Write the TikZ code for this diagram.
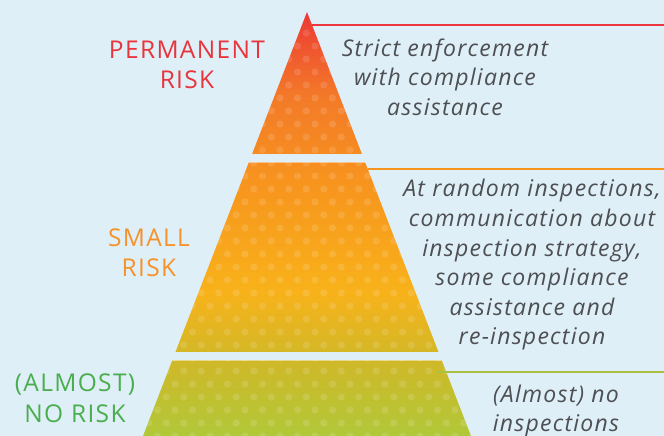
\documentclass[tikz,border=0pt]{standalone}
\usepackage{fontspec}
\setmainfont{Open Sans}
\newfontfamily\lblfont[LetterSpace=5.5]{Open Sans}
\newfontfamily\descfont[LetterSpace=5.5]{Open Sans}
\definecolor{bg}{HTML}{DFEFF8}
\definecolor{redc}{HTML}{E8343A}
\definecolor{orangec}{HTML}{F6922A}
\definecolor{greenc}{HTML}{4AAE4E}
\definecolor{txt}{HTML}{4D4F52}
\definecolor{redline}{HTML}{EE3540}
\definecolor{orangeline}{HTML}{F7941E}
\definecolor{greenline}{HTML}{A8C23F}
\pgfdeclareverticalshading{pyrshade}{100bp}{%
 color(0bp)=(greenline!90!yellow);
 color(25bp)=(greenline!90!yellow);
 color(34bp)=({rgb,255:red,208;green,184;blue,40});
 color(42bp)=({rgb,255:red,248;green,178;blue,26});
 color(55bp)=({rgb,255:red,247;green,148;blue,30});
 color(65bp)=({rgb,255:red,243;green,122;blue,40});
 color(70bp)=({rgb,255:red,240;green,90;blue,46});
 color(75bp)=({rgb,255:red,236;green,56;blue,52});
 color(100bp)=({rgb,255:red,236;green,56;blue,52})}
\tikzset{
 lbl/.style={font=\lblfont\fontsize{24.5}{30.5}\selectfont, align=center, inner sep=0pt},
 desc/.style={font=\descfont\fontsize{23}{29.6}\selectfont\itshape, text=txt, align=center, inner sep=0pt},
 guide/.style={line width=2.4pt},
 dot/.style={fill=white, fill opacity=0.13}
}
\begin{document}
\begin{tikzpicture}[x=1pt,y=-1pt]
\fill[bg] (0,0) rectangle (664,436);
\useasboundingbox (0,0) rectangle (664,436);
% pyramid
\coordinate (apex) at (307,12);
\coordinate (bl) at (143,436);
\coordinate (br) at (471,436);
\begin{scope}
\clip (apex) -- (br) -- (bl) -- cycle;
\shade[shading=pyrshade] (140,12) rectangle (474,436);
\foreach \r in {0,...,33} {
  \pgfmathsetmacro{\yy}{20+13*\r}
  \pgfmathsetmacro{\off}{mod(\r,2)*8.75}
  \foreach \c in {0,...,20} {
    \fill[dot] ({140+\off+17.5*\c},\yy) circle (3.6);
  }
}
\end{scope}
% gaps between the tiers
\fill[bg] (200,154) rectangle (480,162);
\fill[bg] (100,352) rectangle (500,360);
\draw[white, opacity=0.45, line width=0.8pt] (249,162.4) -- (366,162.4);
\draw[white, opacity=0.45, line width=0.8pt] (172,360.4) -- (442,360.4);
% guide lines
\coordinate (r1) at (312,25);
\coordinate (r2) at (664,25);
\coordinate (o1) at (368,169);
\coordinate (o2) at (664,169);
\coordinate (g1) at (438,372);
\coordinate (g2) at (664,372);
\draw[guide, redline] (r1) -- (r2);
\draw[guide, orangeline] (o1) -- (o2);
\draw[guide, greenline] (g1) -- (g2);
% left labels
\node[lbl, text=redc] (perm) at (187,65) {PERMANENT\\RISK};
\node[lbl, text=orangec] (small) at (149,252.5) {SMALL\\RISK};
\node[lbl, text=greenc] (none) at (75,398) {(ALMOST)\\NO RISK};
% right descriptions
\node[desc] (d1) at (445,77) {Strict enforcement\\with compliance\\assistance};
\node[desc] (d2) at (532,265) {At random inspections,\\communication about\\inspection strategy,\\some compliance\\assistance and\\re-inspection};
\node[desc] (d3) at (556,411) {(Almost) no\\inspections};
\end{tikzpicture}
\end{document}
